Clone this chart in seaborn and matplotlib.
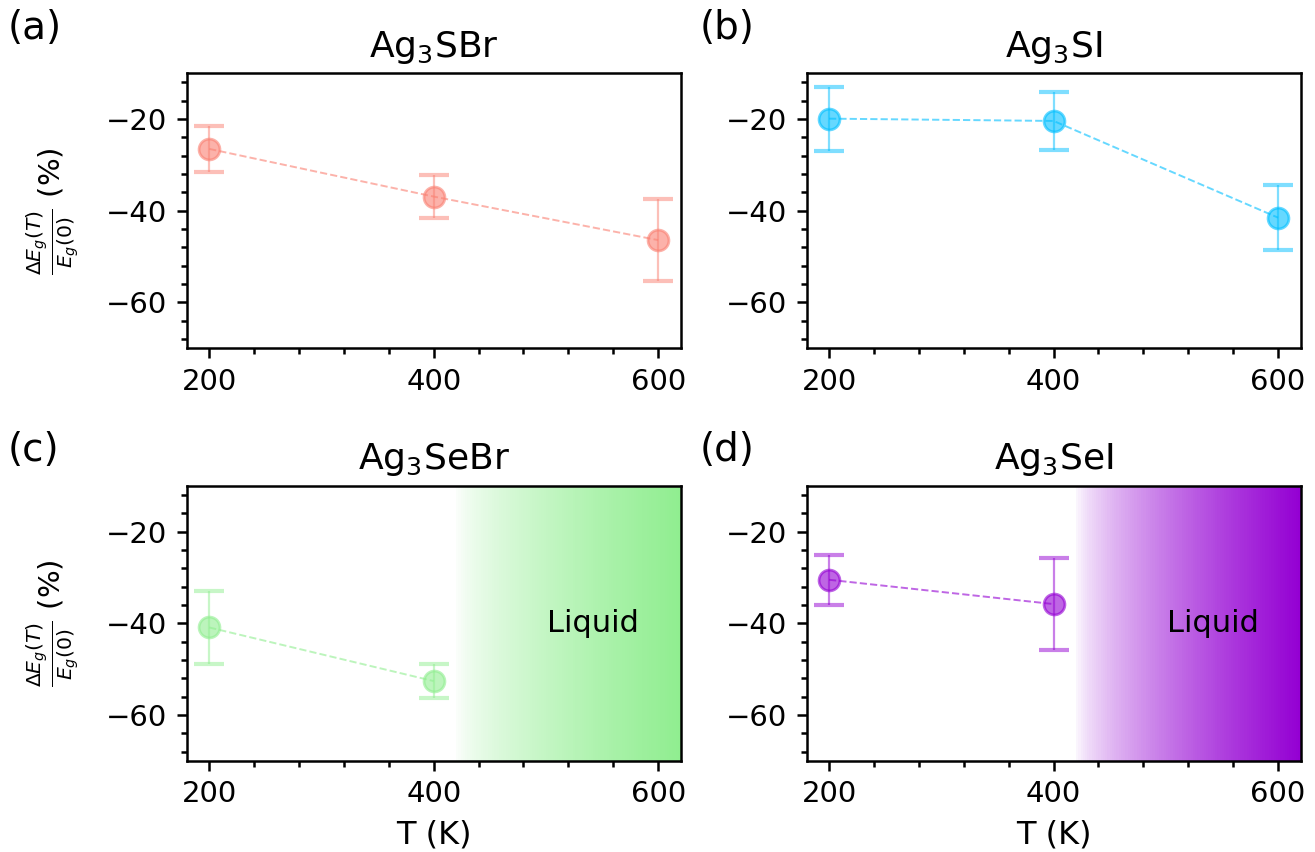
import numpy as np
import matplotlib
matplotlib.use('Agg')
import matplotlib.pyplot as plt
import seaborn as sns
from matplotlib.ticker import AutoMinorLocator

# ---------------- data ----------------
titles = [r'Ag$_3$SBr', r'Ag$_3$SI', r'Ag$_3$SeBr', r'Ag$_3$SeI']
panel_labels = ['(a)', '(b)', '(c)', '(d)']
colors = ['salmon', 'deepskyblue', 'lightgreen', 'darkviolet']

temps_sbr = [200, 400, 600]
dEg_sbr = [-26.5, -36.9, -46.4]
err_sbr = [5.0, 4.6, 9.0]

temps_si = [200, 400, 600]
dEg_si = [-19.9, -20.4, -41.5]
err_si = [7.0, 6.4, 7.1]

temps_sebr = [200, 400]
dEg_sebr = [-40.9, -52.6]
err_sebr = [8.0, 3.7]

temps_sei = [200, 400]
dEg_sei = [-30.5, -35.8]
err_sei = [5.4, 10.1]

liquid_start = [None, None, 420, 420]
liquid_end = 620
liquid_label = 'Liquid'
liquid_text_pos = (542, -40)

x_ticks = [200, 400, 600]
y_ticks = [-20, -40, -60]
xlim = (180, 620)
ylim = (-70, -10)

series = [
    (temps_sbr, dEg_sbr, err_sbr),
    (temps_si, dEg_si, err_si),
    (temps_sebr, dEg_sebr, err_sebr),
    (temps_sei, dEg_sei, err_sei),
]

# ---------------- style ----------------
sns.set_theme(style='ticks', rc={
    'axes.edgecolor': 'black', 'text.color': 'black',
    'axes.labelcolor': 'black', 'xtick.color': 'black', 'ytick.color': 'black',
    'axes.linewidth': 0.9,
})
plt.rcParams['font.family'] = ['DejaVu Sans']
plt.rcParams['mathtext.fontset'] = 'dejavusans'

W, H = 1315, 852
fig, axes = plt.subplots(2, 2, figsize=(W / 200, H / 200), dpi=200)
fig.subplots_adjust(left=0.142, right=0.989, top=0.914, bottom=0.107,
                    wspace=0.255, hspace=0.5)

label_pos = [(8, 28), (700, 28), (8, 450), (700, 450)]

for i, ax in enumerate(axes.flat):
    T, E, err = series[i]
    c = colors[i]
    ax.set_xlim(*xlim)
    ax.set_ylim(*ylim)

    if liquid_start[i] is not None:
        n = 100
        xs = np.linspace(liquid_start[i], liquid_end, n + 1)
        for k in range(n):
            ax.axvspan(xs[k], xs[k + 1], color=c, alpha=((k + 1) / n) ** 0.7,
                       lw=0, zorder=0)
        ax.text(liquid_text_pos[0], liquid_text_pos[1], liquid_label,
                fontsize=11, ha='center', va='center', zorder=5)

    ax.errorbar(T, E, yerr=err, fmt='none', ecolor=c, alpha=0.5,
                capsize=5.5, capthick=1.5, elinewidth=0.8, zorder=3)
    sns.lineplot(x=T, y=E, ax=ax, color=c, marker='o', markersize=7.5,
                 linestyle='--', linewidth=0.7, alpha=0.6,
                 markeredgecolor=c, markeredgewidth=1.0, zorder=4)

    ax.set_xticks(x_ticks)
    ax.set_yticks(y_ticks)
    ax.xaxis.set_minor_locator(AutoMinorLocator(5))
    ax.yaxis.set_minor_locator(AutoMinorLocator(5))
    ax.tick_params(axis='both', which='major', labelsize=10.5, length=3.5, width=0.9)
    ax.tick_params(axis='both', which='minor', length=2, width=0.9)
    for s in ax.spines.values():
        s.set_visible(True)

    ax.set_title(titles[i], fontsize=13)
    if i % 2 == 0:
        ax.set_ylabel(r'$\frac{\Delta E_g(T)}{E_g(0)}$ (%)', fontsize=10.5, labelpad=9)
    else:
        ax.set_ylabel('')
    if i >= 2:
        ax.set_xlabel('T (K)', fontsize=11.5)
    else:
        ax.set_xlabel('')

    lx, ly = label_pos[i]
    fig.text(lx / W, 1 - ly / H, panel_labels[i], fontsize=14, ha='left', va='center')

fig.savefig('out.png', dpi=200)
